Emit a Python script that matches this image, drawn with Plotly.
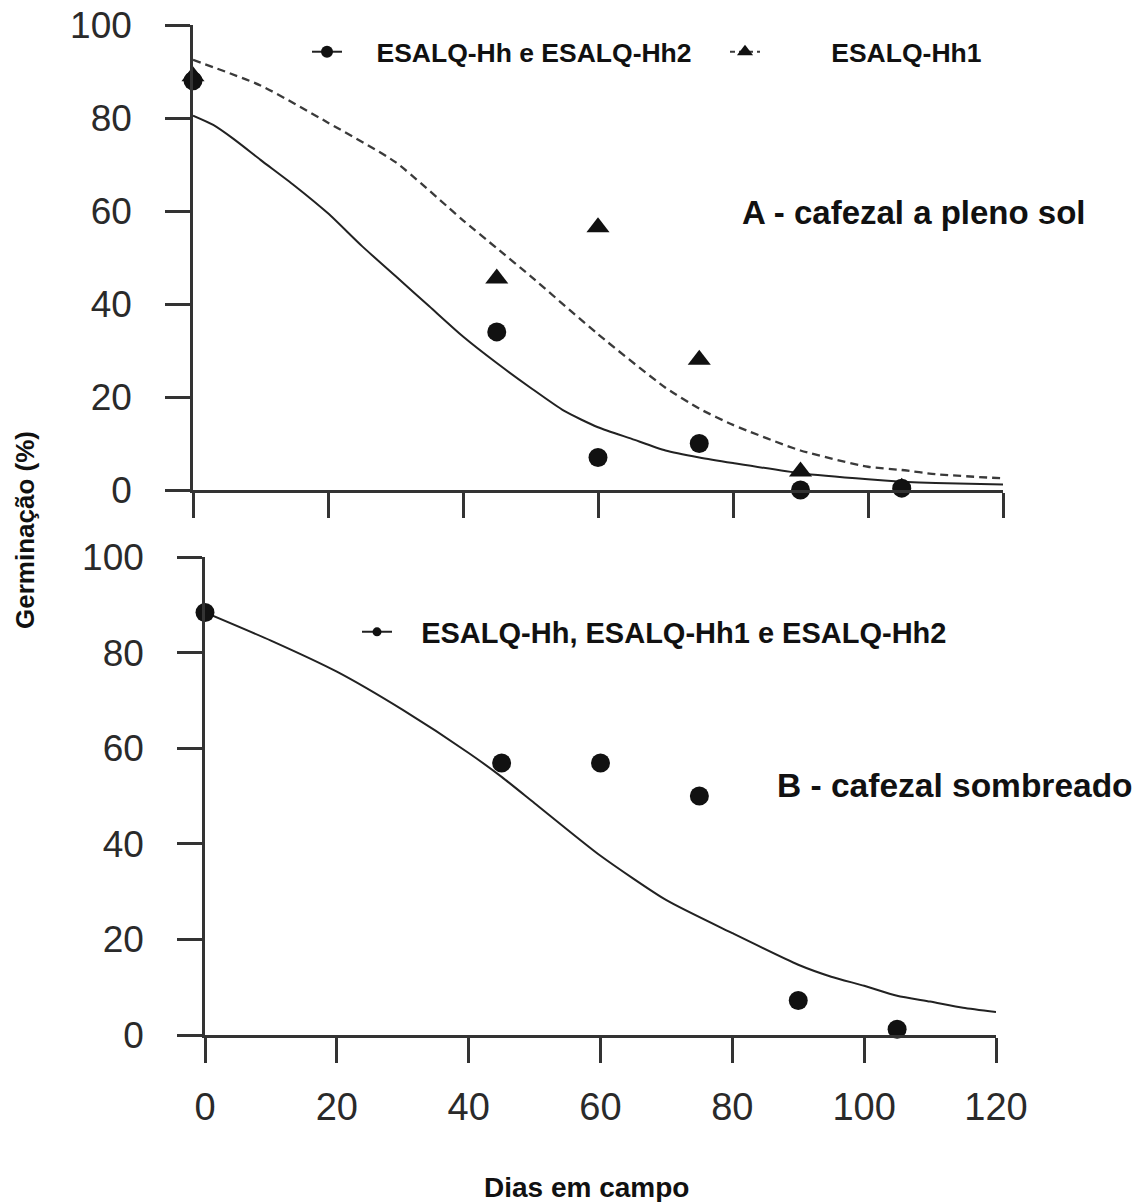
import plotly.graph_objects as go

# ---------------- data ----------------
days_obs = [0, 45, 60, 75, 90, 105]
sol_hh_hh2 = [88, 34, 7, 10, 0, 0.4]          # A - ESALQ-Hh e ESALQ-Hh2 (circles)
sol_hh1 = [89, 45.5, 56.5, 28, 4, 0.5]         # A - ESALQ-Hh1 (triangles)
sombra_all = [88.4, 56.9, 56.9, 50, 7.2, 1.2]  # B - all isolates

fit_days_a = [0, 3, 6, 10, 15, 20, 25, 30, 35, 40, 45, 50, 55, 60, 65, 70, 75, 80, 90, 100, 105, 110, 120]
fit_a_hh_hh2 = [80.5, 78.5, 75.5, 71, 65.5, 59.5, 52.5, 46, 39.5, 33, 27.3, 22, 17, 13.5, 11, 8.5, 7, 5.8, 3.6, 2.3, 1.8, 1.5, 1.2]
fit_days_a1 = [0, 10, 20, 30, 40, 45, 50, 60, 70, 75, 80, 90, 100, 105, 110, 120]
fit_a_hh1 = [92.5, 87, 79, 70.5, 58, 52, 46, 33.5, 22, 17.5, 14, 8.5, 5, 4.3, 3.4, 2.5]
fit_days_b = [0, 10, 20, 30, 40, 45, 50, 60, 70, 80, 90, 95, 100, 105, 110, 115, 120]
fit_b = [88.4, 82.5, 76, 68, 59, 54, 48.5, 37.5, 28.2, 21.3, 14.7, 12.2, 10.3, 8.2, 7, 5.7, 4.8]

x_ticks = [0, 20, 40, 60, 80, 100, 120]
y_ticks = [0, 20, 40, 60, 80, 100]

name_a1 = "ESALQ-Hh e ESALQ-Hh2"
name_a2 = "ESALQ-Hh1"
name_b = "ESALQ-Hh, ESALQ-Hh1 e ESALQ-Hh2"
label_a = "A - cafezal a pleno sol"
label_b = "B - cafezal sombreado"
x_title = "Dias em campo"
y_title = "Germinação (%)"

W, H = 1142, 1202
FONT = "Liberation Sans, Arial, sans-serif"
INK = "#111111"
AX = "#333333"
nb = "\u00a0"

fig = go.Figure()

# ---------- panel A ----------
fig.add_trace(go.Scatter(x=fit_days_a, y=fit_a_hh_hh2, mode="lines", line=dict(color="#222222", width=2, shape="spline", smoothing=0.6),
                         xaxis="x", yaxis="y", showlegend=False, cliponaxis=False, hoverinfo="skip"))
fig.add_trace(go.Scatter(x=fit_days_a1, y=fit_a_hh1, mode="lines", line=dict(color="#3a3a3a", width=2.3, dash="8px,5px", shape="spline", smoothing=0.6),
                         xaxis="x", yaxis="y", showlegend=False, cliponaxis=False, hoverinfo="skip"))
fig.add_trace(go.Scatter(x=days_obs, y=sol_hh1, mode="markers", marker=dict(symbol="triangle-up", size=20, color=INK),
                         xaxis="x", yaxis="y", showlegend=False, cliponaxis=False))
fig.add_trace(go.Scatter(x=days_obs, y=sol_hh_hh2, mode="markers", marker=dict(symbol="circle", size=19, color=INK),
                         xaxis="x", yaxis="y", showlegend=False, cliponaxis=False))

# legend entries panel A
fig.add_trace(go.Scatter(x=[None], y=[None], mode="lines+markers", name=nb * 4 + name_a1, legendwidth=373,
                         line=dict(color="#222222", width=2), marker=dict(symbol="circle", size=12, color=INK),
                         xaxis="x", yaxis="y", legend="legend"))
fig.add_trace(go.Scatter(x=[None], y=[None], mode="lines+markers", name=nb * 9 + name_a2,
                         line=dict(color="#3a3a3a", width=2, dash="5px,4px"), marker=dict(symbol="triangle-up", size=14, color=INK),
                         xaxis="x", yaxis="y", legend="legend"))

# ---------- panel B ----------
fig.add_trace(go.Scatter(x=fit_days_b, y=fit_b, mode="lines", line=dict(color="#222222", width=2, shape="spline", smoothing=0.6),
                         xaxis="x2", yaxis="y2", showlegend=False, cliponaxis=False, hoverinfo="skip"))
fig.add_trace(go.Scatter(x=days_obs, y=sombra_all, mode="markers", marker=dict(symbol="circle", size=19, color=INK),
                         xaxis="x2", yaxis="y2", showlegend=False, cliponaxis=False))
fig.add_trace(go.Scatter(x=[None], y=[None], mode="lines+markers", name=nb * 3 + name_b,
                         line=dict(color="#222222", width=2), marker=dict(symbol="circle", size=9, color=INK),
                         xaxis="x2", yaxis="y2", legend="legend2"))

axis_common = dict(showline=True, linecolor=AX, linewidth=2.5, ticks="outside", ticklen=25, tickwidth=2.5,
                   tickcolor=AX, showgrid=False, zeroline=False, mirror=False, fixedrange=True, automargin=False)

fig.update_layout(
    width=W, height=H,
    margin=dict(l=0, r=0, t=0, b=0, pad=0, autoexpand=False),
    paper_bgcolor="white", plot_bgcolor="white",
    font=dict(family=FONT, color=INK),
    xaxis=dict(domain=[193 / W, 1003 / W], range=[0, 120], tickvals=x_ticks, showticklabels=False, anchor="y", **axis_common),
    yaxis=dict(domain=[1 - 490 / H, 1 - 25 / H], range=[0, 100], tickvals=y_ticks, anchor="x",
               tickfont=dict(size=37, color="#2a2a2a", family=FONT), ticklabelstandoff=26, **axis_common),
    xaxis2=dict(domain=[205 / W, 996 / W], range=[0, 120], tickvals=x_ticks, anchor="y2",
                tickfont=dict(size=38, color="#2a2a2a", family=FONT), ticklabelstandoff=12, **axis_common),
    yaxis2=dict(domain=[1 - 1035 / H, 1 - 557 / H], range=[0, 100], tickvals=y_ticks, anchor="x2",
                tickfont=dict(size=37, color="#2a2a2a", family=FONT), ticklabelstandoff=26, **axis_common),
    legend=dict(orientation="h", x=307 / W, y=1 - 52 / H, xanchor="left", yanchor="middle",
                font=dict(size=26.5, family=FONT, color=INK, weight="bold"), bgcolor="rgba(0,0,0,0)",
                itemclick=False, itemdoubleclick=False),
    legend2=dict(orientation="h", x=357 / W, y=1 - 632 / H, xanchor="left", yanchor="middle",
                 font=dict(size=29, family=FONT, color=INK, weight="bold"), bgcolor="rgba(0,0,0,0)",
                 itemclick=False, itemdoubleclick=False),
    annotations=[
        dict(text=label_a, x=740 / W, y=1 - 212 / H, xref="paper", yref="paper", showarrow=False,
             xanchor="left", yanchor="middle", font=dict(size=33, family=FONT, color=INK, weight="bold")),
        dict(text=label_b, x=775 / W, y=1 - 785 / H, xref="paper", yref="paper", showarrow=False,
             xanchor="left", yanchor="middle", font=dict(size=33.5, family=FONT, color=INK, weight="bold")),
        dict(text=x_title, x=587 / W, y=1 - 1187 / H, xref="paper", yref="paper", showarrow=False,
             xanchor="center", yanchor="middle", font=dict(size=28, family=FONT, color=INK, weight="bold")),
        dict(text=y_title, x=25 / W, y=1 - 530 / H, xref="paper", yref="paper", showarrow=False, textangle=-90,
             xanchor="center", yanchor="middle", font=dict(size=26, family=FONT, color=INK, weight="bold")),
    ],
    showlegend=True,
)

fig.write_html("out.html")
